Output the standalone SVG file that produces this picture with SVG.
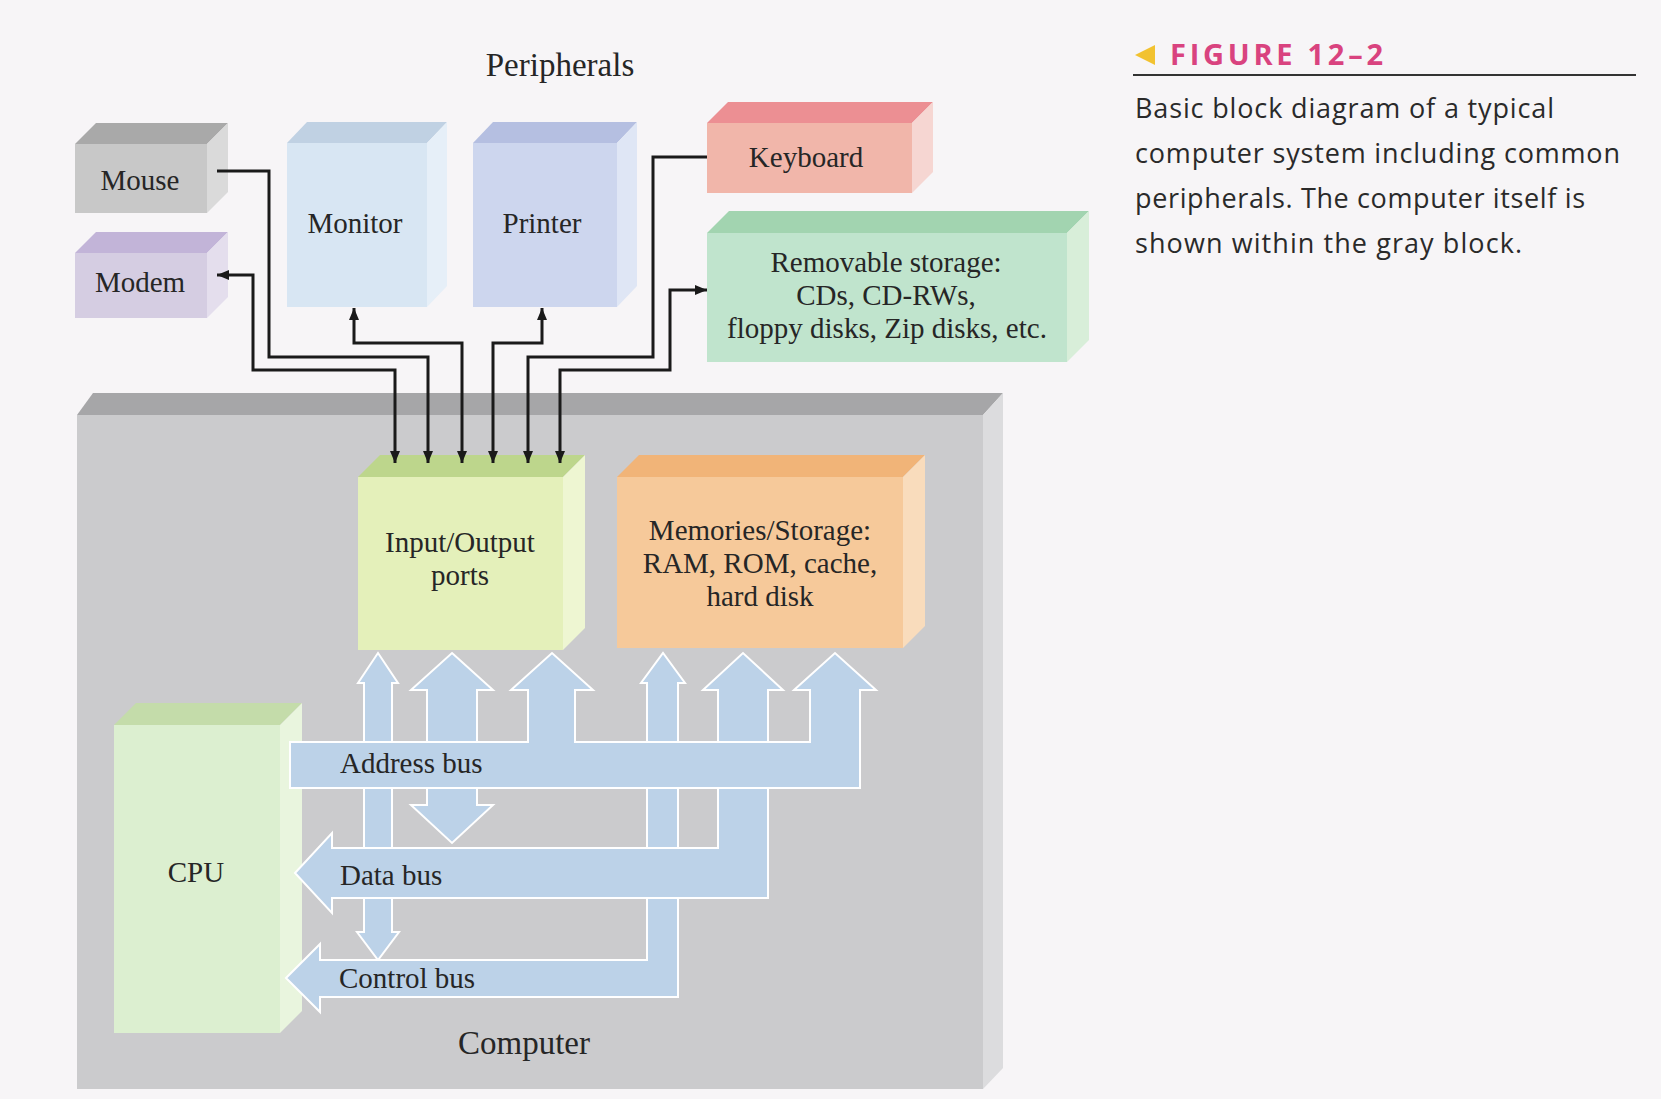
<svg xmlns="http://www.w3.org/2000/svg" width="1661" height="1099" viewBox="0 0 1661 1099">
<style>
  .lbl{font-family:"Liberation Serif","Times New Roman",serif;font-size:29px;fill:#262626;text-anchor:middle}
  .lbll{font-family:"Liberation Serif","Times New Roman",serif;font-size:29px;fill:#262626}
  .big{font-family:"Liberation Serif","Times New Roman",serif;font-size:33px;fill:#262626;text-anchor:middle}
  .cap{font-family:"Open Sans","Lato",sans-serif;font-size:27px;fill:#2a2a2a}
  .fig{font-family:"Open Sans","Lato",sans-serif;font-size:29px;font-weight:bold;fill:#d9437f;letter-spacing:2px}
  .wire{fill:none;stroke:#1a1a1a;stroke-width:3}
  .bus{fill:#bcd2e8;stroke:#ffffff;stroke-width:2;stroke-linejoin:miter}
</style>
<defs>
  <marker id="ah" viewBox="0 0 12 10" markerUnits="userSpaceOnUse" markerWidth="12" markerHeight="10" refX="12" refY="5" orient="auto-start-reverse">
    <path d="M0,0 L12,5 L0,10 z" fill="#1a1a1a"/>
  </marker>
</defs>
<rect width="1661" height="1099" fill="#f7f5f7"/>

<text class="big" x="560" y="76">Peripherals</text>

<!-- Computer block -->
<g id="computer">
  <polygon points="77,415 93,393 1003,393 983,415" fill="#a6a6a8"/>
  <polygon points="983,415 1003,393 1003,1068 983,1089" fill="#dcdcde"/>
  <rect x="77" y="415" width="906" height="674" fill="#cbcbcd"/>
  <text class="big" x="524" y="1054">Computer</text>
</g>

<g id="mouse">
  <polygon points="75,144 96,123 228,123 207,144" fill="#a9a9a9"/>
  <polygon points="207,144 228,123 228,192 207,213" fill="#dadada"/>
  <rect x="75" y="144" width="132" height="69" fill="#c8c8c8"/>
  <text class="lbl" x="140" y="190">Mouse</text>
</g>
<g id="modem">
  <polygon points="75,253 96,232 228,232 207,253" fill="#c2b4d8"/>
  <polygon points="207,253 228,232 228,297 207,318" fill="#e4deed"/>
  <rect x="75" y="253" width="132" height="65" fill="#d5cde2"/>
  <text class="lbl" x="140" y="292">Modem</text>
</g>
<g id="monitor">
  <polygon points="287,143 307,122 447,122 427,143" fill="#c0d1e3"/>
  <polygon points="427,143 447,122 447,286 427,307" fill="#e6eff8"/>
  <rect x="287" y="143" width="140" height="164" fill="#d8e6f3"/>
  <text class="lbl" x="355" y="233">Monitor</text>
</g>
<g id="printer">
  <polygon points="473,143 493,122 637,122 617,143" fill="#b5bfe1"/>
  <polygon points="617,143 637,122 637,286 617,307" fill="#dfe6f5"/>
  <rect x="473" y="143" width="144" height="164" fill="#cdd6ee"/>
  <text class="lbl" x="542" y="233">Printer</text>
</g>
<g id="keyboard">
  <polygon points="707,123 728,102 933,102 912,123" fill="#ec8f93"/>
  <polygon points="912,123 933,102 933,172 912,193" fill="#f6d6d2"/>
  <rect x="707" y="123" width="205" height="70" fill="#f1b6aa"/>
  <text class="lbl" x="806" y="167">Keyboard</text>
</g>
<g id="removable">
  <polygon points="707,233 729,211 1089,211 1067,233" fill="#a2d4b0"/>
  <polygon points="1067,233 1089,211 1089,340 1067,362" fill="#d8eed9"/>
  <rect x="707" y="233" width="360" height="129" fill="#c0e4cd"/>
  <text class="lbl" x="886" y="272">Removable storage:</text>
  <text class="lbl" x="886" y="305">CDs, CD-RWs,</text>
  <text class="lbl" x="887" y="338">floppy disks, Zip disks, etc.</text>
</g>
<g id="io">
  <polygon points="358,477 380,455 585,455 563,477" fill="#bdd68c"/>
  <polygon points="563,477 585,455 585,628 563,650" fill="#eef6d2"/>
  <rect x="358" y="477" width="205" height="173" fill="#e4f0ba"/>
  <text class="lbl" x="460" y="552">Input/Output</text>
  <text class="lbl" x="460" y="585">ports</text>
</g>
<g id="memory">
  <polygon points="617,477 639,455 925,455 903,477" fill="#f1b478"/>
  <polygon points="903,477 925,455 925,626 903,648" fill="#f9dcbc"/>
  <rect x="617" y="477" width="286" height="171" fill="#f6c99a"/>
  <text class="lbl" x="760" y="540">Memories/Storage:</text>
  <text class="lbl" x="760" y="573">RAM, ROM, cache,</text>
  <text class="lbl" x="760" y="606">hard disk</text>
</g>
<g id="cpu">
  <polygon points="114,725 136,703 302,703 280,725" fill="#c4dcaa"/>
  <polygon points="280,725 302,703 302,1011 280,1033" fill="#e9f5de"/>
  <rect x="114" y="725" width="166" height="308" fill="#dcefd0"/>
  <text class="lbl" x="196" y="882">CPU</text>
</g>

<!-- buses -->
<g id="buses">
  <path class="bus" d="M378 653 L398 683 L392 683 L392 932 L399 932 L378 960 L357 932 L364 932 L364 683 L358 683 Z"/>
  <path class="bus" d="M286 978 L320 944 L320 960 L647 960 L647 683 L641 683 L663 653 L685 683 L678 683 L678 997 L320 997 L320 1012 Z"/>
  <path class="bus" d="M452 653 L493 690 L477 690 L477 805 L493 805 L452 843 L411 805 L427 805 L427 690 L411 690 Z"/>
  <path class="bus" d="M295 873 L332 833 L332 848 L718 848 L718 690 L703 690 L743 653 L783 690 L768 690 L768 898 L332 898 L332 913 Z"/>
  <path class="bus" d="M290 742 L528 742 L528 690 L511 690 L552 653 L593 690 L575 690 L575 742 L810 742 L810 690 L794 690 L835 653 L876 690 L860 690 L860 788 L290 788 Z"/>
  <text class="lbll" x="340" y="773">Address bus</text>
  <text class="lbll" x="340" y="885">Data bus</text>
  <text class="lbll" x="339" y="988">Control bus</text>
</g>

<!-- connectors -->
<g id="connectors">
  <path class="wire" d="M217 171 H269 V357 H428 V463" marker-end="url(#ah)"/>
  <path class="wire" d="M217 275 H253 V370 H395 V463" marker-start="url(#ah)" marker-end="url(#ah)"/>
  <path class="wire" d="M354 308 V343 H462 V463" marker-start="url(#ah)" marker-end="url(#ah)"/>
  <path class="wire" d="M542 308 V343 H493 V463" marker-start="url(#ah)" marker-end="url(#ah)"/>
  <path class="wire" d="M707 157 H653 V357 H528 V463" marker-end="url(#ah)"/>
  <path class="wire" d="M707 290 H670 V370 H560 V463" marker-start="url(#ah)" marker-end="url(#ah)"/>
</g>

<!-- caption -->
<g id="caption">
  <polygon points="1135,55 1155,45 1155,65" fill="#f2c230"/>
  <text class="fig" x="1170" y="65" textLength="215">FIGURE 12–2</text>
  <line x1="1133" y1="75" x2="1636" y2="75" stroke="#333" stroke-width="2"/>
  <text class="cap" x="1135" y="118" textLength="419">Basic block diagram of a typical</text>
  <text class="cap" x="1135" y="163" textLength="485">computer system including common</text>
  <text class="cap" x="1135" y="208" textLength="450">peripherals. The computer itself is</text>
  <text class="cap" x="1135" y="253" textLength="387">shown within the gray block.</text>
</g>
</svg>
